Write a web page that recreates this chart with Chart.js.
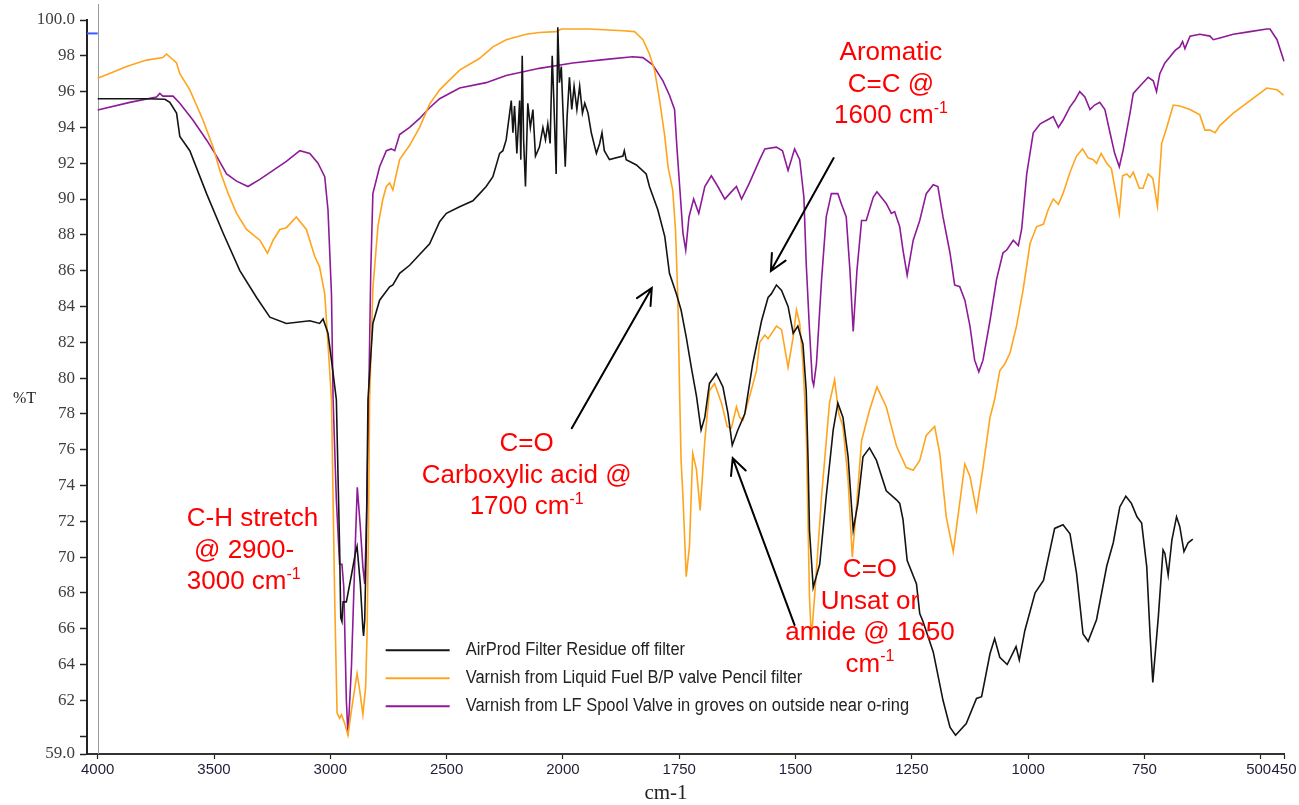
<!DOCTYPE html>
<html><head><meta charset="utf-8">
<script src="https://cdn.jsdelivr.net/npm/chart.js@4.4.1/dist/chart.umd.min.js"></script>
<style>html,body{margin:0;padding:0;background:#fff;}#wrap{width:1299px;height:805px;}</style>
</head><body><div id="wrap"><canvas id="c" width="1299" height="805"></canvas></div>
<script>
// ---------- data (wavenumber cm-1, %T) ----------
const SERIES_LABELS = [
  'AirProd Filter Residue off filter',
  'Varnish from Liquid Fuel B/P valve Pencil filter',
  'Varnish from LF Spool Valve in groves on outside near o-ring'
];
const AIRPROD = [[4000,95.6],[3933,95.6],[3790,95.6],[3711,95.57],[3690,95.4],[3661,94.8],[3647,93.5],[3604,92.7],[3532,90.3],[3461,88.1],[3389,86.0],[3317,84.5],[3260,83.4],[3189,83.05],[3088,83.2],[3046,83.05],[3031,83.3],[3010,82.5],[2995,81.0],[2974,78.8],[2960,70.5],[2955,66.6],[2950,66.4],[2945,67.5],[2931,67.5],[2909,69.0],[2891,70.3],[2885,70.6],[2871,68.5],[2860,66.0],[2857,65.6],[2852,66.5],[2845,71.0],[2838,78.8],[2817,83.05],[2788,84.35],[2745,85.1],[2731,85.2],[2702,85.85],[2659,86.3],[2616,86.9],[2573,87.5],[2530,88.73],[2501,89.2],[2444,89.57],[2387,89.9],[2358,90.3],[2330,90.7],[2301,91.25],[2272,92.55],[2258,92.7],[2244,93.3],[2229,94.8],[2222,95.5],[2215,93.7],[2208,95.2],[2198,92.55],[2186,95.5],[2181,92.2],[2175,98.0],[2169,93.3],[2161,90.7],[2151,95.35],[2140,94.0],[2129,95.0],[2118,92.4],[2101,92.9],[2086,94.0],[2075,93.3],[2065,94.2],[2055,93.1],[2046,98.0],[2039,95.5],[2029,91.4],[2022,99.6],[2015,96.5],[2007,97.4],[2000,95.0],[1995,91.8],[1991,94.6],[1986,96.8],[1981,95.0],[1976,96.3],[1970,95.0],[1964,96.3],[1958,94.8],[1953,95.35],[1946,94.8],[1939,93.7],[1928,92.55],[1921,93.1],[1916,93.7],[1911,92.7],[1900,92.2],[1871,92.4],[1868,92.7],[1864,92.2],[1842,91.9],[1821,91.4],[1814,90.7],[1796,89.4],[1781,87.9],[1771,85.85],[1756,84.7],[1746,83.8],[1735,82.3],[1724,80.6],[1713,79.0],[1703,77.1],[1695,77.8],[1685,79.7],[1670,80.25],[1656,79.5],[1645,78.0],[1636,76.25],[1624,77.1],[1609,78.0],[1592,80.8],[1573,83.2],[1559,84.5],[1552,84.7],[1541,85.2],[1530,84.9],[1516,84.0],[1505,82.5],[1495,82.9],[1484,81.9],[1477,79.3],[1473,75.4],[1470,71.5],[1462,68.3],[1448,69.6],[1434,73.4],[1419,77.1],[1409,78.6],[1398,77.8],[1387,75.6],[1376,71.5],[1366,73.0],[1355,75.6],[1341,76.1],[1326,75.4],[1305,73.7],[1283,73.2],[1276,73.0],[1269,72.1],[1260,69.8],[1240,68.5],[1233,66.85],[1226,66.4],[1204,64.7],[1190,62.9],[1183,62.0],[1168,60.5],[1156,60.05],[1133,60.7],[1111,62.1],[1100,62.2],[1082,64.6],[1072,65.45],[1061,64.4],[1045,64.0],[1026,65.0],[1019,64.25],[1007,65.9],[985,68.0],[967,68.7],[943,71.6],[925,71.8],[910,71.3],[896,69.1],[882,65.7],[871,65.3],[853,66.5],[831,69.5],[817,70.8],[803,72.8],[790,73.4],[778,73.0],[766,72.25],[756,71.9],[745,69.45],[738,65.7],[732,63.0],[720,66.7],[710,70.4],[706,70.2],[699,69.0],[691,70.95],[681,72.25],[674,71.7],[665,70.3],[656,70.8],[646,71.0]];
const FUEL = [[4000,96.74],[3933,97.1],[3876,97.4],[3790,97.76],[3720,97.9],[3704,98.1],[3661,97.6],[3647,97.0],[3604,96.1],[3547,94.4],[3504,92.9],[3475,91.6],[3439,90.3],[3403,89.2],[3360,88.3],[3303,87.7],[3270,86.97],[3246,87.7],[3217,88.3],[3189,88.4],[3146,89.0],[3103,88.3],[3067,86.8],[3046,86.2],[3024,84.7],[3010,81.9],[2995,78.8],[2981,67.6],[2971,61.3],[2960,61.0],[2952,61.2],[2938,60.7],[2924,60.05],[2909,61.45],[2885,63.5],[2874,62.6],[2860,61.2],[2848,62.75],[2842,65.7],[2836,71.3],[2831,78.8],[2817,85.0],[2795,88.5],[2774,90.0],[2759,90.7],[2745,90.9],[2731,90.5],[2716,91.4],[2702,92.2],[2659,93.0],[2616,94.0],[2573,95.3],[2530,96.1],[2444,97.2],[2358,97.86],[2301,98.5],[2244,98.9],[2158,99.2],[2101,99.3],[2029,99.35],[2007,99.5],[1943,99.5],[1871,99.4],[1846,99.35],[1828,98.9],[1814,98.1],[1803,97.2],[1792,95.5],[1781,93.5],[1774,91.8],[1764,90.5],[1758,88.3],[1753,84.5],[1749,79.0],[1746,75.4],[1742,73.4],[1735,68.9],[1728,70.6],[1721,75.8],[1713,74.9],[1705,72.6],[1695,76.5],[1685,79.3],[1674,79.7],[1659,78.6],[1647,77.3],[1638,77.2],[1627,78.4],[1620,77.8],[1613,77.65],[1599,78.95],[1584,80.4],[1577,82.0],[1566,82.4],[1559,82.2],[1541,82.9],[1530,82.7],[1516,80.6],[1505,82.3],[1498,83.8],[1491,83.05],[1484,80.8],[1477,77.1],[1470,67.8],[1466,65.45],[1459,67.8],[1444,73.4],[1427,78.6],[1416,79.9],[1407,78.0],[1398,77.3],[1387,74.3],[1378,70.0],[1369,72.8],[1358,76.5],[1341,78.2],[1325,79.5],[1305,78.4],[1283,76.2],[1262,75.0],[1247,74.85],[1233,75.4],[1219,76.8],[1201,77.3],[1190,75.8],[1176,72.25],[1161,70.3],[1151,72.25],[1136,75.2],[1125,74.5],[1111,72.6],[1097,75.0],[1082,77.8],[1072,78.8],[1061,80.4],[1050,80.8],[1039,81.4],[1025,82.9],[1011,84.9],[996,87.5],[982,88.45],[967,88.6],[957,89.4],[946,90.0],[935,89.7],[925,90.3],[910,91.5],[896,92.4],[883,92.8],[871,92.3],[860,92.2],[853,92.0],[843,92.55],[831,92.0],[821,91.7],[814,90.7],[804,89.2],[797,91.3],[788,91.4],[781,91.2],[774,91.5],[761,90.6],[753,90.6],[742,91.4],[732,91.15],[722,89.6],[713,93.1],[702,94.0],[688,95.25],[674,95.2],[652,95.0],[631,94.7],[620,93.85],[609,93.85],[598,93.7],[588,94.1],[559,94.8],[523,95.5],[487,96.2],[465,96.1],[451,95.8]];
const SPOOL = [[4000,94.97],[3862,95.4],[3747,95.7],[3733,95.9],[3720,95.75],[3676,95.75],[3647,95.35],[3590,94.4],[3532,93.3],[3489,92.4],[3446,91.4],[3403,91.0],[3354,90.7],[3303,91.1],[3246,91.6],[3189,92.1],[3131,92.7],[3088,92.55],[3053,92.0],[3024,91.25],[3010,89.4],[2995,84.7],[2988,78.8],[2974,73.2],[2960,69.6],[2950,69.6],[2942,68.3],[2931,62.0],[2924,60.05],[2909,63.9],[2891,71.3],[2884,73.9],[2871,71.7],[2860,69.45],[2852,68.5],[2842,73.2],[2835,78.8],[2826,86.0],[2817,90.3],[2788,91.8],[2759,92.7],[2738,92.8],[2723,92.7],[2702,93.6],[2659,94.0],[2616,94.5],[2573,95.1],[2530,95.6],[2444,96.2],[2330,96.5],[2244,96.9],[2101,97.3],[1979,97.6],[1907,97.8],[1850,97.95],[1828,97.9],[1807,97.5],[1785,96.6],[1771,95.8],[1760,95.0],[1755,92.9],[1749,90.7],[1742,88.1],[1736,87.15],[1729,89.0],[1719,90.0],[1708,89.2],[1695,90.7],[1681,91.3],[1667,90.7],[1652,90.0],[1638,90.4],[1627,90.7],[1616,90.0],[1599,90.9],[1577,92.2],[1566,92.8],[1541,92.9],[1528,92.7],[1516,91.6],[1502,92.8],[1491,92.2],[1482,90.1],[1477,86.4],[1470,82.7],[1464,79.9],[1461,79.6],[1455,80.8],[1444,85.5],[1434,89.0],[1423,90.3],[1409,90.3],[1401,89.7],[1391,89.0],[1383,86.0],[1376,82.6],[1368,86.0],[1358,88.8],[1348,88.8],[1333,90.1],[1325,90.4],[1305,89.75],[1294,89.2],[1287,89.3],[1276,88.45],[1269,87.15],[1260,85.75],[1247,87.7],[1233,88.8],[1219,90.3],[1204,90.8],[1194,90.7],[1183,89.0],[1168,87.0],[1158,85.2],[1147,85.1],[1136,84.35],[1125,82.9],[1115,81.0],[1106,80.35],[1097,81.0],[1082,83.2],[1068,85.5],[1054,87.0],[1046,87.15],[1032,87.7],[1021,87.4],[1014,88.3],[1003,91.4],[989,93.7],[974,94.2],[953,94.5],[946,94.6],[935,94.0],[925,94.4],[910,95.15],[900,95.5],[889,96.0],[878,95.7],[867,95.0],[857,95.25],[846,95.4],[835,95.0],[824,93.7],[814,92.55],[804,91.8],[796,92.7],[781,94.8],[774,95.9],[760,96.3],[742,96.8],[731,96.6],[724,96.0],[717,97.0],[706,97.6],[695,97.95],[684,98.3],[674,98.5],[668,98.8],[663,98.4],[652,99.1],[631,99.2],[609,99.1],[602,98.9],[588,99.0],[559,99.2],[523,99.35],[487,99.5],[480,99.5],[465,98.9],[450,97.7]];
const X_TICKS = [4000,3500,3000,2500,2000,1750,1500,1250,1000,750,500,450];
const Y_TICKS = [59,60,62,64,66,68,70,72,74,76,78,80,82,84,86,88,90,92,94,96,98,100];

// annotations (anchored in data units)
const NOTES = [
  {wn:1295, t:98.27, align:'center', lines:[['Aromatic'],['C=C @'],['1600 cm','-1']]},
  {wn:2156, t:76.42, align:'center', lines:[['C=O'],['Carboxylic acid @'],['1700 cm','-1']]},
  {wn:3617, t:72.23, align:'left',   lines:[['C-H stretch'],[' @ 2900-'],['3000 cm','-1']]},
  {wn:1340, t:69.38, align:'center', lines:[['C=O'],['Unsat or'],['amide @ 1650'],['cm','-1']]}
];
const ARROWS = [[1418,92.29,1553,85.98],[1981,77.2,1809,85.03],[1502,66.2,1635,75.53]];
const LEGEND_AT = [2762, 64.8];
const MARKER_T = 99.25;

// ---------- split wavenumber scale (2x expansion below 2000) ----------
const X_BREAK = 2000, X_END = 450, X_START = 4046, X_COMPRESS = 2;
class SplitScale extends Chart.LinearScale {
  _u(v){ return v >= X_BREAK ? (X_BREAK - X_END) + (v - X_BREAK) / X_COMPRESS : v - X_END; }
  _uInv(u){ return u >= X_BREAK - X_END ? X_BREAK + (u - (X_BREAK - X_END)) * X_COMPRESS : u + X_END; }
  buildTicks(){ this.min = X_END; this.max = X_START; return X_TICKS.map(v => ({value: v})); }
  getPixelForValue(v){ const tot = this._u(X_START); return this.getPixelForDecimal((tot - this._u(v)) / tot); }
  getValueForPixel(p){ const tot = this._u(X_START); return this._uInv(tot - this.getDecimalForPixel(p) * tot); }
}
SplitScale.id = 'split';
SplitScale.defaults = {};
Chart.register(SplitScale);

const COLORS = ['#141414', '#FFA41C', '#8E1A9A'];
const toXY = arr => arr.map(p => ({x: p[0], y: p[1]}));

const SANS = '"Liberation Sans", Arial, sans-serif';
const SERIF = '"Liberation Serif", "Times New Roman", serif';
const NOTE_SIZE = 26;

function drawRich(ctx, parts, x, yBase, align, size){
  const sup = Math.round(size * 0.6);
  const segs = [{t: parts[0], s: size, dy: 0}];
  if (parts[1]) segs.push({t: parts[1], s: sup, dy: -size * 0.4});
  let w = 0;
  segs.forEach(g => { ctx.font = g.s + 'px ' + SANS; g.w = ctx.measureText(g.t).width; w += g.w; });
  let cx = align === 'center' ? x - w / 2 : x;
  ctx.textAlign = 'left';
  segs.forEach(g => { ctx.font = g.s + 'px ' + SANS; ctx.fillText(g.t, cx, yBase + g.dy); cx += g.w; });
}

const deco = {
  id: 'deco',
  beforeDatasetsDraw(chart){
    const {ctx, scales:{x, y}, chartArea} = chart;
    ctx.save();
    const x0 = x.getPixelForValue(4000);
    ctx.strokeStyle = '#9a9a9a'; ctx.lineWidth = 1;
    ctx.beginPath(); ctx.moveTo(Math.round(x0) + 0.5, 4); ctx.lineTo(Math.round(x0) + 0.5, chartArea.bottom); ctx.stroke();
    ctx.strokeStyle = '#3b5cff'; ctx.lineWidth = 2;
    const ym = y.getPixelForValue(MARKER_T);
    ctx.beginPath(); ctx.moveTo(chartArea.left, ym); ctx.lineTo(x0, ym); ctx.stroke();
    ctx.restore();
  },
  afterDraw(chart){
    const {ctx, scales:{x, y}} = chart;
    ctx.save();
    // axis titles
    ctx.fillStyle = '#222';
    ctx.font = '21px ' + SERIF; ctx.textAlign = 'center'; ctx.textBaseline = 'alphabetic';
    ctx.fillText('cm-1', 666, 799);
    ctx.font = '16px ' + SERIF; ctx.textAlign = 'left';
    ctx.fillText('%T', 13, 403);
    // legend
    const lx = x.getPixelForValue(LEGEND_AT[0]), ly = y.getPixelForValue(LEGEND_AT[1]);
    chart.data.datasets.forEach((ds, i) => {
      const yy = ly + i * 28;
      ctx.strokeStyle = ds.borderColor; ctx.lineWidth = 2;
      ctx.beginPath(); ctx.moveTo(lx, yy); ctx.lineTo(lx + 64, yy); ctx.stroke();
      ctx.save();
      ctx.translate(lx + 80, yy); ctx.scale(0.915, 1);
      ctx.fillStyle = '#222'; ctx.font = '18px ' + SANS; ctx.textAlign = 'left'; ctx.textBaseline = 'middle';
      ctx.fillText(ds.label, 0, 0);
      ctx.restore();
    });
    // notes
    ctx.fillStyle = '#FF0000'; ctx.textBaseline = 'alphabetic';
    NOTES.forEach(n => {
      const px = x.getPixelForValue(n.wn), py = y.getPixelForValue(n.t);
      n.lines.forEach((ln, i) => drawRich(ctx, ln, px, py + NOTE_SIZE * 0.358 + i * 31.4, n.align, NOTE_SIZE));
    });
    // arrows
    ctx.strokeStyle = '#000'; ctx.lineWidth = 2; ctx.lineCap = 'round';
    ARROWS.forEach(a => {
      const x1 = x.getPixelForValue(a[0]), y1 = y.getPixelForValue(a[1]);
      const x2 = x.getPixelForValue(a[2]), y2 = y.getPixelForValue(a[3]);
      const ang = Math.atan2(y2 - y1, x2 - x1), L = 18, sp = 0.45;
      ctx.beginPath(); ctx.moveTo(x1, y1); ctx.lineTo(x2, y2);
      ctx.moveTo(x2 - L * Math.cos(ang - sp), y2 - L * Math.sin(ang - sp)); ctx.lineTo(x2, y2);
      ctx.lineTo(x2 - L * Math.cos(ang + sp), y2 - L * Math.sin(ang + sp));
      ctx.stroke();
    });
    ctx.restore();
  }
};

new Chart(document.getElementById('c'), {
  type: 'line',
  data: {
    datasets: [AIRPROD, FUEL, SPOOL].map((d, i) => ({
      label: SERIES_LABELS[i], data: toXY(d), borderColor: COLORS[i],
      borderWidth: 1.6, pointRadius: 0, tension: 0, fill: false
    }))
  },
  options: {
    responsive: false, animation: false, devicePixelRatio: 1,
    layout: {padding: {left: 0, top: 20, right: 15, bottom: 0}},
    plugins: {legend: {display: false}, tooltip: {enabled: false}},
    scales: {
      x: {
        type: 'split', position: 'bottom',
        grid: {drawOnChartArea: false, drawTicks: true, tickLength: 5, tickColor: '#222', tickWidth: 1.2},
        border: {display: true, color: '#333', width: 2},
        ticks: {autoSkip: false, maxRotation: 0, padding: 2, color: '#1e1e38',
                font: {family: SANS, size: 15}, callback: v => v === 500 ? '500 ' : String(v)},
        afterFit: s => { s.height = 51; }
      },
      y: {
        type: 'linear', min: 59, max: 100,
        afterBuildTicks: s => { s.ticks = Y_TICKS.map(v => ({value: v})); },
        grid: {drawOnChartArea: false, drawTicks: true, tickLength: 7, tickColor: '#222', tickWidth: 1.5},
        border: {display: true, color: '#222', width: 2},
        ticks: {padding: 5, color: '#404040', font: {family: SERIF, size: 17},
                callback: v => v === 100 ? '100.0' : v === 59 ? '59.0' : v === 60 ? '' : String(v)},
        afterFit: s => { s.width = 87; }
      }
    }
  },
  plugins: [deco]
});
</script></body></html>
